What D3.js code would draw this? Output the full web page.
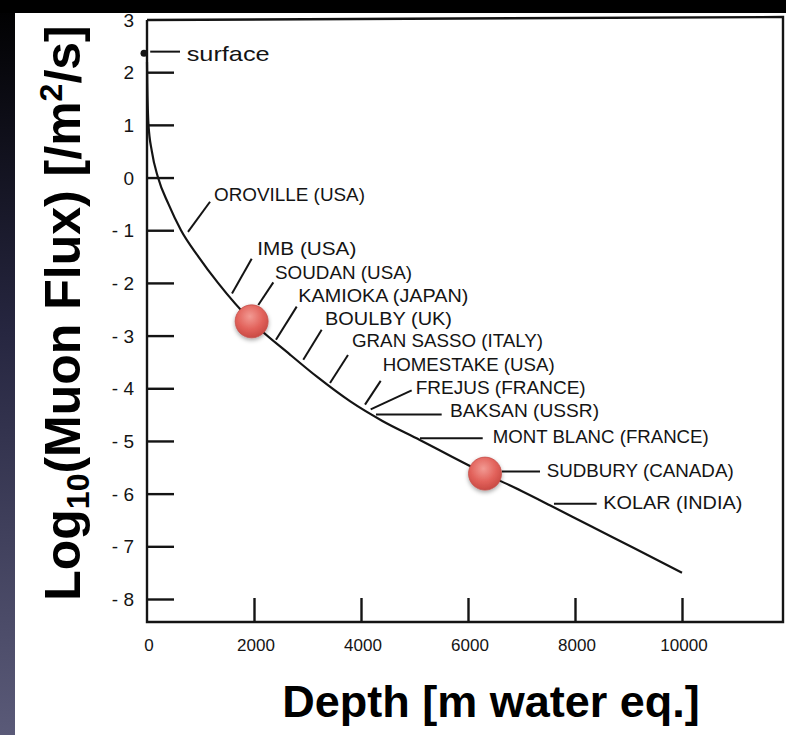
<!DOCTYPE html>
<html><head><meta charset="utf-8">
<script src="https://cdn.jsdelivr.net/npm/d3@7"></script>
<style>
html,body{margin:0;padding:0;background:#fff;}
svg{display:block;}
</style></head>
<body>
<svg id="chart" width="786" height="735"></svg>
<script>
// ---- data ----
const curveDepth = [0, 5, 28, 90, 206, 400, 635, 960, 1327, 1956, 2673, 3200, 3800, 4400, 5100, 5700, 6318, 7000, 7530, 8300, 9100, 10000];
const curveLogFlux = [2.2, 1.8, 1.0, 0.5, 0.0, -0.5, -1.0, -1.5, -2.0, -2.73, -3.36, -3.8, -4.25, -4.62, -4.98, -5.3, -5.62, -5.95, -6.22, -6.62, -7.03, -7.5];

const siteNames = ["OROVILLE (USA)", "IMB (USA)", "SOUDAN (USA)", "KAMIOKA (JAPAN)", "BOULBY (UK)", "GRAN SASSO (ITALY)", "HOMESTAKE (USA)", "FREJUS (FRANCE)", "BAKSAN (USSR)", "MONT BLANC (FRANCE)", "SUDBURY (CANADA)", "KOLAR (INDIA)"];
// leader line start / end in data units (depth m.w.e., log10 flux)
const leaderStartDepth = [766, 1589, 2080, 2411, 2921, 3421, 4075, 4181, 4280, 5103, 6630, 7607];
const leaderStartFlux  = [-1.03, -2.20, -2.42, -3.08, -3.46, -3.90, -4.31, -4.40, -4.50, -4.95, -5.58, -6.19];
const leaderEndDepth   = [1178, 1957, 2361, 2798, 3265, 3757, 4368, 4947, 5508, 6275, 7346, 8405];
const leaderEndFlux    = [-0.46, -1.54, -1.99, -2.45, -2.89, -3.37, -3.86, -4.04, -4.50, -4.95, -5.58, -6.19];
// label anchor (text start, baseline) in data units
const labelDepth = [1252, 2062, 2393, 2828, 3327, 3832, 4406, 5022, 5664, 6462, 7471, 8529];
const labelFlux  = [-0.44, -1.47, -1.93, -2.37, -2.79, -3.22, -3.68, -4.11, -4.55, -5.03, -5.69, -6.29];

const surfaceLabel = "surface";
const surfacePoint = [0, 2.36];
const surfaceLeader = [[60, 2.39], [617, 2.39]];
const surfaceText = [742, 2.22];

const markerDepth = [1956, 6318];
const markerFlux = [-2.73, -5.62];

const xTicks = [2000, 4000, 6000, 8000, 10000];
const xTickLabels = ["0", "2000", "4000", "6000", "8000", "10000"];
const xTickLabelValues = [0, 2000, 4000, 6000, 8000, 10000];
const yTicks = [2, 1, 0, -1, -2, -3, -4, -5, -6, -7, -8];
const yTickLabels = ["3", "2", "1", "0", "- 1", "- 2", "- 3", "- 4", "- 5", "- 6", "- 7", "- 8"];
const yTickLabelValues = [3, 2, 1, 0, -1, -2, -3, -4, -5, -6, -7, -8];

const xTitle = "Depth [m water eq.]";

// ---- layout (styles) ----
const labelWidths = [151, 99, 137, 170, 127, 191, 172, 170, 149, 216, 187, 139];
const surfaceWidth = 83;

const svg = d3.select("#chart");
const W = 786, H = 735;

const x = d3.scaleLinear().domain([0, 10000]).range([147, 682]);
const y = d3.scaleLinear().domain([3, -8]).range([19.5, 599]);
const xMaxPx = 783, yBottomPx = 622, yTopPx = 17;

// background
const defs = svg.append("defs");
const lg = defs.append("linearGradient").attr("id", "strip").attr("x1", 0).attr("y1", 0).attr("x2", 0).attr("y2", 1);
lg.append("stop").attr("offset", "0%").attr("stop-color", "#000");
lg.append("stop").attr("offset", "45%").attr("stop-color", "#262640");
lg.append("stop").attr("offset", "100%").attr("stop-color", "#5a5a78");
const rg = defs.append("radialGradient").attr("id", "ball").attr("cx", "45%").attr("cy", "35%").attr("r", "65%");
rg.append("stop").attr("offset", "0%").attr("stop-color", "#f29a93");
rg.append("stop").attr("offset", "60%").attr("stop-color", "#e2625b");
rg.append("stop").attr("offset", "100%").attr("stop-color", "#c94a44");
const flt = defs.append("filter").attr("id", "shadow").attr("x", "-50%").attr("y", "-50%").attr("width", "200%").attr("height", "200%");
flt.append("feDropShadow").attr("dx", 0).attr("dy", 2).attr("stdDeviation", 2).attr("flood-color", "#000").attr("flood-opacity", 0.35);

svg.append("rect").attr("x", 0).attr("y", 0).attr("width", W).attr("height", H).attr("fill", "#fff");
svg.append("rect").attr("x", 0).attr("y", 0).attr("width", 15).attr("height", H).attr("fill", "url(#strip)");
svg.append("rect").attr("x", 0).attr("y", 0).attr("width", W).attr("height", 13).attr("fill", "#000");

const ink = "#141414";

// frame
const g = svg.append("g");
g.append("path")
  .attr("d", `M${x(0)},${yTopPx + 3}L${x(0)},${yBottomPx}L${xMaxPx},${yBottomPx}L${xMaxPx},${yTopPx}L${x(0)},${yTopPx + 3}`)
  .attr("fill", "none").attr("stroke", ink).attr("stroke-width", 2.4);

// y axis ticks (inward)
const yAxis = d3.axisRight(y).tickValues(yTicks).tickSize(27).tickFormat("");
const ya = g.append("g").attr("transform", `translate(${x(0)},0)`).call(yAxis);
ya.select(".domain").remove();
ya.selectAll("line").attr("stroke", ink).attr("stroke-width", 2.4);

// x axis ticks (upward)
const xAxis = d3.axisTop(x).tickValues(xTicks).tickSize(24).tickFormat("");
const xa = g.append("g").attr("transform", `translate(0,${yBottomPx})`).call(xAxis);
xa.select(".domain").remove();
xa.selectAll("line").attr("stroke", ink).attr("stroke-width", 2.4);

// tick labels
const tickFont = "'Liberation Sans', Arial, sans-serif";
g.selectAll(".ylab").data(yTickLabelValues).join("text")
  .attr("x", 134).attr("y", d => y(d) + 7)
  .attr("text-anchor", "end").attr("font-family", tickFont).attr("font-size", 19)
  .attr("fill", ink)
  .text((d, i) => yTickLabels[i]);
g.selectAll(".xlab").data(xTickLabelValues).join("text")
  .attr("x", d => x(d) + 2).attr("y", 651)
  .attr("text-anchor", "middle").attr("font-family", tickFont).attr("font-size", 17)
  .attr("fill", ink)
  .text((d, i) => xTickLabels[i]);

// curve
const pts = curveDepth.map((d, i) => [d, curveLogFlux[i]]);
const line = d3.line().x(d => x(d[0])).y(d => y(d[1])).curve(d3.curveMonotoneX);
g.append("path").datum(pts).attr("d", line).attr("fill", "none").attr("stroke", ink).attr("stroke-width", 2.2);

// surface
g.append("circle").attr("cx", x(surfacePoint[0]) - 3).attr("cy", y(surfacePoint[1])).attr("r", 3.5).attr("fill", ink);
g.append("line").attr("x1", x(surfaceLeader[0][0])).attr("y1", y(surfaceLeader[0][1]))
  .attr("x2", x(surfaceLeader[1][0])).attr("y2", y(surfaceLeader[1][1]))
  .attr("stroke", ink).attr("stroke-width", 2);
const labFont = "'Liberation Sans', Arial, sans-serif";
g.append("text").attr("x", x(surfaceText[0])).attr("y", y(surfaceText[1]))
  .attr("font-family", labFont).attr("font-size", 21).attr("fill", ink)
  .attr("textLength", surfaceWidth).attr("lengthAdjust", "spacingAndGlyphs")
  .text(surfaceLabel);

// site leaders
g.selectAll(".leader").data(siteNames).join("line")
  .attr("x1", (d, i) => x(leaderStartDepth[i])).attr("y1", (d, i) => y(leaderStartFlux[i]))
  .attr("x2", (d, i) => x(leaderEndDepth[i])).attr("y2", (d, i) => y(leaderEndFlux[i]))
  .attr("stroke", ink).attr("stroke-width", 2);
g.selectAll(".site").data(siteNames).join("text")
  .attr("x", (d, i) => x(labelDepth[i])).attr("y", (d, i) => y(labelFlux[i]))
  .attr("font-family", labFont).attr("font-size", 18.5).attr("fill", ink)
  .attr("textLength", (d, i) => labelWidths[i]).attr("lengthAdjust", "spacingAndGlyphs")
  .text(d => d);

// markers
g.selectAll(".marker").data(markerDepth).join("circle")
  .attr("cx", d => x(d)).attr("cy", (d, i) => y(markerFlux[i]))
  .attr("r", 16.5).attr("fill", "url(#ball)").attr("stroke", "#c4514b").attr("stroke-width", 0.8)
  .attr("filter", "url(#shadow)");

// titles
const titleFont = "'Liberation Sans', Arial, Helvetica, sans-serif";
svg.append("text").attr("x", 491).attr("y", 717).attr("text-anchor", "middle")
  .attr("font-family", titleFont).attr("font-weight", "bold").attr("font-size", 45).attr("fill", "#000")
  .text(xTitle);

const yt = svg.append("text").attr("transform", "translate(80,313) rotate(-90)").attr("text-anchor", "middle")
  .attr("font-family", titleFont).attr("font-weight", "bold").attr("font-size", 50).attr("fill", "#000");
yt.append("tspan").text("Log");
yt.append("tspan").attr("font-size", 32).attr("dy", 9).text("10");
yt.append("tspan").attr("dy", -9).text("(Muon Flux) [/m");
yt.append("tspan").attr("font-size", 32).attr("dy", -18).text("2");
yt.append("tspan").attr("dy", 18).text("/s]");
</script>
</body></html>
